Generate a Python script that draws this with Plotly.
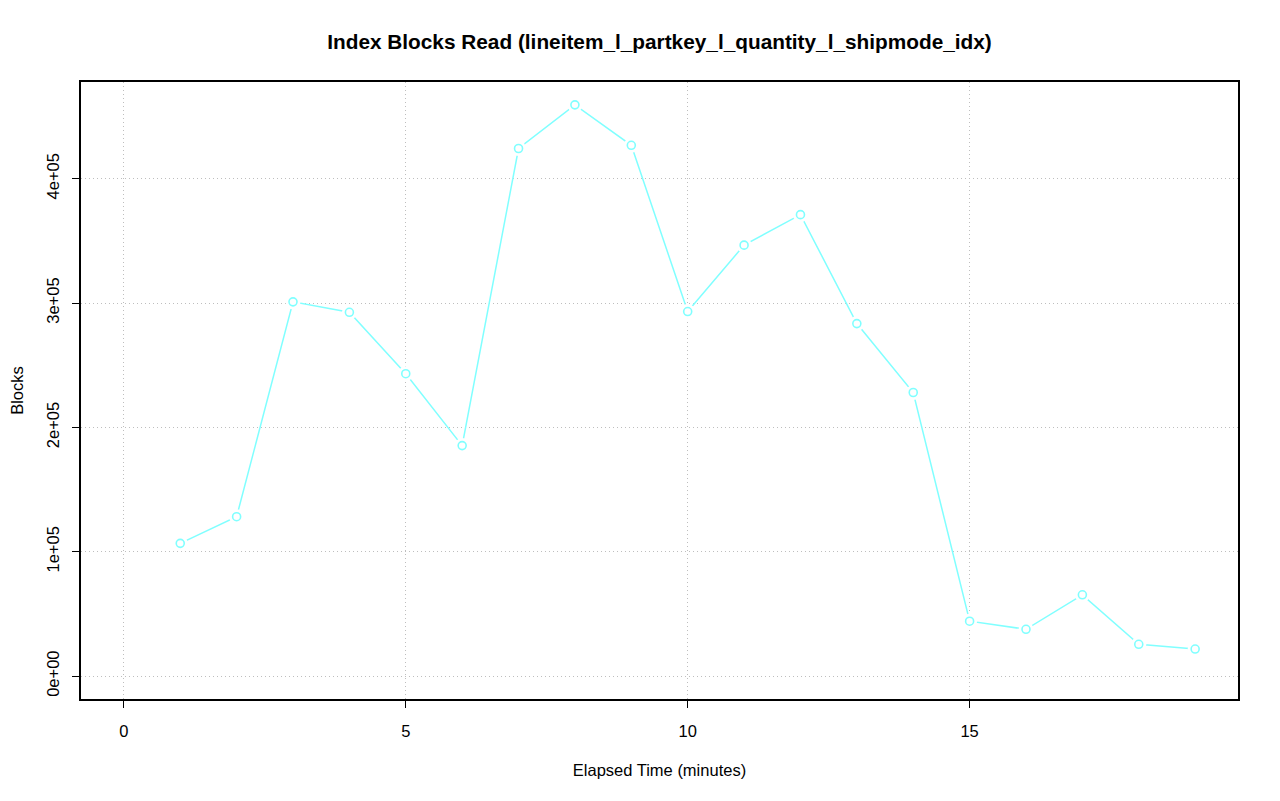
import plotly.graph_objects as go

# Data
minutes = [1, 2, 3, 4, 5, 6, 7, 8, 9, 10, 11, 12, 13, 14, 15, 16, 17, 18, 19]
blocks = [106800, 128200, 301000, 292600, 243200, 185400, 424300, 459400, 426900,
          293200, 346600, 371100, 283500, 228100, 44200, 37700, 65400, 25600, 21800]

x_tickvals = [0, 5, 10, 15]
x_ticktext = ["0", "5", "10", "15"]
y_tickvals = [0, 100000, 200000, 300000, 400000]
y_ticktext = ["0e+00", "1e+05", "2e+05", "3e+05", "4e+05"]

title_text = "Index Blocks Read (lineitem_l_partkey_l_quantity_l_shipmode_idx)"
x_title = "Elapsed Time (minutes)"
y_title = "Blocks"

line_color = "#80FFFF"
font_family = "Liberation Sans, Arial, Helvetica, sans-serif"

xmin, xmax = 0, max(minutes)
ymin, ymax = 0, max(blocks)
xpad = 0.04 * (xmax - xmin)
ypad = 0.04 * (ymax - ymin)

W, H = 1264, 785
base_size = 16.5

fig = go.Figure()
fig.add_trace(go.Scatter(x=minutes, y=blocks, mode="lines",
                         line=dict(color=line_color, width=1.5),
                         hoverinfo="skip", showlegend=False))
# white halo to create gaps like R type="b"
fig.add_trace(go.Scatter(x=minutes, y=blocks, mode="markers",
                         marker=dict(symbol="circle", size=15, color="white",
                                     line=dict(width=0)),
                         hoverinfo="skip", showlegend=False))
fig.add_trace(go.Scatter(x=minutes, y=blocks, mode="markers",
                         marker=dict(symbol="circle-open", size=8, color=line_color,
                                     line=dict(width=1.6, color=line_color)),
                         showlegend=False))

fig.update_layout(
    width=W, height=H,
    margin=dict(l=73, r=34, t=74, b=94),
    paper_bgcolor="white", plot_bgcolor="white",
    font=dict(family=font_family, size=base_size, color="black"),
    title=dict(text="<b>" + title_text + "</b>", x=0.5, xref="paper",
               y=1 - 34 / H, yref="container", yanchor="middle",
               font=dict(size=20.8, family=font_family, color="black")),
)
grid_dash = "1px,3px"
fig.update_xaxes(
    automargin=False,
    range=[xmin - xpad, xmax + xpad],
    tickvals=x_tickvals, ticktext=x_ticktext,
    ticks="outside", ticklen=7, tickwidth=1, tickcolor="black",
    ticklabelstandoff=9,
    showline=True, linecolor="black", linewidth=1.5, mirror=True,
    showgrid=True, gridcolor="#BEBEBE", gridwidth=1, griddash=grid_dash,
    zeroline=False,
    title=dict(text=x_title, standoff=26, font=dict(size=base_size)),
    tickfont=dict(size=base_size),
)
fig.update_yaxes(
    automargin=False,
    range=[ymin - ypad, ymax + ypad],
    tickvals=y_tickvals, ticktext=y_ticktext, tickangle=-90,
    ticks="outside", ticklen=7, tickwidth=1, tickcolor="black",
    ticklabelstandoff=7,
    showline=True, linecolor="black", linewidth=1.5, mirror=True,
    showgrid=True, gridcolor="#BEBEBE", gridwidth=1, griddash=grid_dash,
    zeroline=False,
    title=dict(text=y_title, standoff=26, font=dict(size=base_size)),
    tickfont=dict(size=base_size),
)

fig.write_html("out.html")
